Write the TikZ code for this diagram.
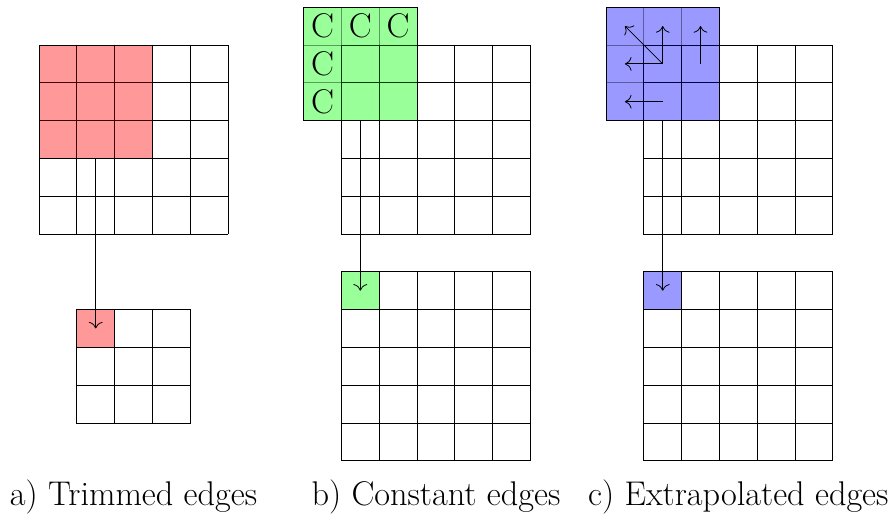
\documentclass[tikz,border=0pt]{standalone}
\usepackage{fontspec}
\setmainfont{Latin Modern Roman}
\usetikzlibrary{arrows.meta}
\tikzset{
  cellbox/.style={draw, minimum size=1cm, inner sep=0pt, outer sep=0pt},
  ovbox/.style={minimum size=3cm, inner sep=0pt, outer sep=0pt},
  ovfill/.style={fill=#1, fill opacity=0.4},
  ovgrid/.style={draw opacity=0.4},
  captext/.style={anchor=base, font=\fontsize{25.8}{30}\selectfont},
  ctext/.style={font=\fontsize{25.8}{30}\selectfont, inner sep=0pt},
  arr/.style={-{To[scale=1.7]}},
  gridline/.style={line cap=rect},
}
\begin{document}
\begin{tikzpicture}[line width=0.6pt]
\useasboundingbox (-1.032,1.19) rectangle (22.46,-12.46);
% ---------- panel a ----------
\draw[gridline] (0,0) grid (5,-5);
\draw[gridline] (1,-7) grid (4,-10);
\node[ovbox] (ova) at (1.5,-1.5) {};
\fill[ovfill=red] (ova.north west) rectangle (ova.south east);
\draw[ovgrid] (0,0) grid (3,-3);
\draw (ova.north west) rectangle (ova.south east);
\node[cellbox, fill=red!40] (ta) at (1.5,-7.5) {};
\draw[arr] (ova.south) -- (ta.center);
\node[captext] (la) at (2.5,-12.17) {a) Trimmed edges};
% ---------- panel b ----------
\draw[gridline] (8,0) grid (13,-5);
\draw[gridline] (8,-6) grid (13,-11);
\node[ovbox] (ovb) at (8.5,-0.5) {};
\fill[ovfill=green] (ovb.north west) rectangle (ovb.south east);
\draw[ovgrid] (7,1) grid (10,-2);
\draw (ovb.north west) rectangle (ovb.south east);
\node[ctext] (cb1) at (7.5,0.5) {C};
\node[ctext] (cb2) at (8.5,0.5) {C};
\node[ctext] (cb3) at (9.5,0.5) {C};
\node[ctext] (cb4) at (7.5,-0.5) {C};
\node[ctext] (cb5) at (7.5,-1.5) {C};
\node[cellbox, fill=green!40] (tb) at (8.5,-6.5) {};
\draw[arr] (ovb.south) -- (tb.center);
\node[captext] (lb) at (10.5,-12.17) {b) Constant edges};
% ---------- panel c ----------
\draw[gridline] (16,0) grid (21,-5);
\draw[gridline] (16,-6) grid (21,-11);
\node[ovbox] (ovc) at (16.5,-0.5) {};
\fill[ovfill=blue] (ovc.north west) rectangle (ovc.south east);
\draw[ovgrid] (15,1) grid (18,-2);
\draw (ovc.north west) rectangle (ovc.south east);
\coordinate (c00) at (15.5,0.5);
\coordinate (c01) at (16.5,0.5);
\coordinate (c02) at (17.5,0.5);
\coordinate (c10) at (15.5,-0.5);
\coordinate (c11) at (16.5,-0.5);
\coordinate (c12) at (17.5,-0.5);
\coordinate (c20) at (15.5,-1.5);
\coordinate (c21) at (16.5,-1.5);
\draw[arr] (c11) -- (c00);
\draw[arr] (c11) -- (c01);
\draw[arr] (c11) -- (c10);
\draw[arr] (c12) -- (c02);
\draw[arr] (c21) -- (c20);
\node[cellbox, fill=blue!40] (tc) at (16.5,-6.5) {};
\draw[arr] (ovc.south) -- (tc.center);
\node[captext] (lc) at (18.5,-12.17) {c) Extrapolated edges};
\end{tikzpicture}
\end{document}
